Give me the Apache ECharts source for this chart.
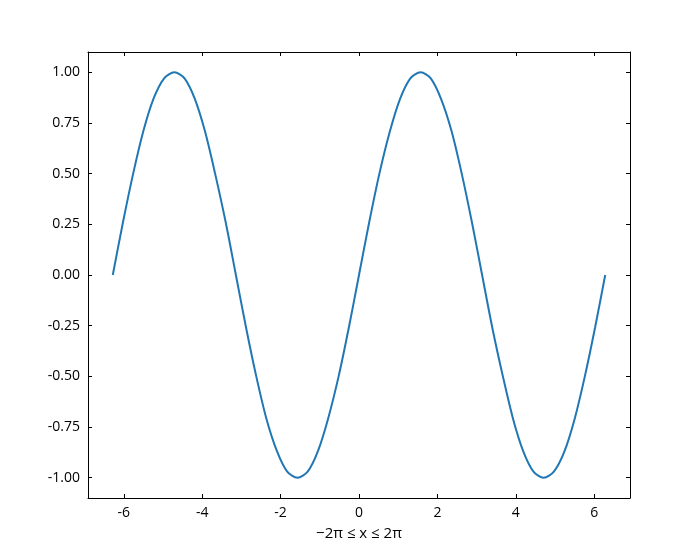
<!DOCTYPE html>
<html>
<head>
<meta charset="utf-8">
<script src="https://cdn.jsdelivr.net/npm/echarts@6/dist/echarts.min.js"></script>
<style>html,body{margin:0;padding:0;background:#fff}#c{width:700px;height:560px}</style>
</head>
<body>
<div id="c"></div>
<script>
const xValues = [-6.28,-6.02,-5.76,-5.50,-5.24,-4.97,-4.71,-4.45,-4.19,-3.93,-3.67,-3.40,-3.14,-2.88,-2.62,-2.36,-2.09,-1.83,-1.57,-1.31,-1.05,-0.79,-0.52,-0.26,0,
  0.26,0.52,0.79,1.05,1.31,1.57,1.83,2.09,2.36,2.62,2.88,3.14,3.40,3.67,3.93,4.19,4.45,4.71,4.97,5.24,5.50,5.76,6.02,6.28];
const yValues = [0,0.26,0.50,0.71,0.87,0.97,1.00,0.97,0.87,0.71,0.50,0.26,0,-0.26,-0.50,-0.71,-0.87,-0.97,-1.00,-0.97,-0.87,-0.71,-0.50,-0.26,0,
  0.26,0.50,0.71,0.87,0.97,1.00,0.97,0.87,0.71,0.50,0.26,0,-0.26,-0.50,-0.71,-0.87,-0.97,-1.00,-0.97,-0.87,-0.71,-0.50,-0.26,0];
const xTicks = [-6,-4,-2,0,2,4,6];
const yTicks = [-1,-0.75,-0.5,-0.25,0,0.25,0.5,0.75,1];
const xLabel = '\u22122\u03c0 \u2264 x \u2264 2\u03c0';

const font = '"Open Sans", "Noto Sans", sans-serif';
const chart = echarts.init(document.getElementById('c'), null, {renderer: 'canvas'});
const line = {show: true, onZero: false, lineStyle: {color: '#000', width: 1}};
const tick = (vals) => ({show: true, inside: true, length: 4, customValues: vals, lineStyle: {color: '#000', width: 1}});
chart.setOption({
  animation: false,
  grid: {left: 88, right: 70, top: 52, bottom: 62, containLabel: false},
  xAxis: [{
    type: 'value', min: -6.912, max: 6.912, position: 'bottom',
    axisLine: line, axisTick: tick(xTicks), splitLine: {show: false},
    axisLabel: {customValues: xTicks, margin: 8, color: '#000', fontSize: 14, fontFamily: font,
      formatter: v => String(v)},
    name: xLabel, nameLocation: 'middle', nameGap: 28,
    nameTextStyle: {color: '#000', fontSize: 15, fontFamily: font}
  }, {
    type: 'value', min: -6.912, max: 6.912, position: 'top',
    axisLine: line, axisTick: tick(xTicks), splitLine: {show: false}, axisLabel: {show: false}
  }],
  yAxis: [{
    type: 'value', min: -1.1, max: 1.1, position: 'left',
    axisLine: line, axisTick: tick(yTicks), splitLine: {show: false},
    axisLabel: {customValues: yTicks, margin: 8, color: '#000', fontSize: 14, fontFamily: font,
      formatter: v => v.toFixed(2)}
  }, {
    type: 'value', min: -1.1, max: 1.1, position: 'right',
    axisLine: line, axisTick: tick(yTicks), splitLine: {show: false}, axisLabel: {show: false}
  }],
  series: [{
    type: 'line', showSymbol: false, smooth: 0.3,
    data: xValues.map((x, i) => [x, yValues[i]]),
    lineStyle: {color: '#1f77b4', width: 2}
  }]
});
</script>
</body>
</html>
